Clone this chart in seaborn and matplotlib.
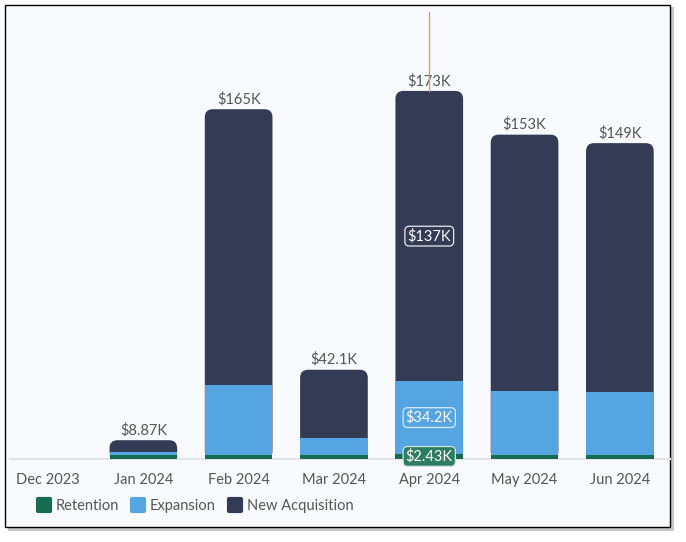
import numpy as np
import pandas as pd
import matplotlib.pyplot as plt
import seaborn as sns
from matplotlib.patches import FancyBboxPatch, Rectangle
from matplotlib.lines import Line2D
from matplotlib.markers import MarkerStyle

# Data (values in $K)
months = ['Dec 2023', 'Jan 2024', 'Feb 2024', 'Mar 2024', 'Apr 2024', 'May 2024', 'Jun 2024']
retention = [0, 1.9, 2.0, 2.0, 2.43, 2.0, 2.0]
expansion = [0, 1.5, 33.0, 8.0, 34.2, 30.0, 29.5]
new_acq = [0, 5.47, 130.0, 32.1, 137.0, 121.0, 117.5]
total_labels = ['', '$8.87K', '$165K', '$42.1K', '$173K', '$153K', '$149K']

c_ret = '#176b4f'
c_exp = '#54a5e2'
c_new = '#343b55'
txt = '#555555'

df = pd.DataFrame({'month': months, 'retention': retention,
                   'expansion': expansion, 'new': new_acq})
df['lower'] = df['retention'] + df['expansion']
df['total'] = df['lower'] + df['new']

sns.set_style('white')
plt.rcParams['font.family'] = ['Lato', 'DejaVu Sans']

fig = plt.figure(figsize=(6.86, 5.42), dpi=100)
fig.patch.set_facecolor('white')
# card frame with shadow
fig.patches.append(Rectangle((8 / 686, 1 - 531 / 542), 666 / 686, 524 / 542,
                             transform=fig.transFigure, facecolor='#c8c8c8',
                             edgecolor='none', zorder=-3))
fig.patches.append(Rectangle((5 / 686, 1 - 527 / 542), 665 / 686, 522 / 542,
                             transform=fig.transFigure, facecolor='#f9fafe',
                             edgecolor='black', linewidth=1, zorder=-2))

ax = fig.add_axes([10 / 686, 1 - 459 / 542, 660 / 686, 449 / 542])
ax.set_facecolor('none')

bw = 0.71
# full stack height, rounded top (navy shows where new acquisition sits)
sns.barplot(data=df, x='month', y='total', order=months, color=c_new,
            width=bw, saturation=1, linewidth=0, ax=ax)
ymax = 211.8
xl = (-0.399, 6.526)
ax.set_xlim(*xl)
ax.set_ylim(0, ymax)

old = list(ax.patches)
px_x = 660 / (xl[1] - xl[0])
px_y = 449 / ymax
r = 8 / px_x
for p in old:
    x, w, h = p.get_x(), p.get_width(), p.get_height()
    p.remove()
    if h <= 0:
        continue
    fb = FancyBboxPatch((x, 0), w, h, boxstyle=f'round,pad=0,rounding_size={r}',
                        mutation_aspect=px_x / px_y, facecolor=c_new,
                        edgecolor='none', zorder=2)
    ax.add_patch(fb)

sns.barplot(data=df, x='month', y='lower', order=months, color=c_exp,
            width=bw, saturation=1, linewidth=0, ax=ax, zorder=3)
sns.barplot(data=df, x='month', y='retention', order=months, color=c_ret,
            width=bw, saturation=1, linewidth=0, ax=ax, zorder=4)
ax.set_xlim(*xl)
ax.set_ylim(0, ymax)

# totals
for i, (t, lab) in enumerate(zip(df['total'], total_labels)):
    if lab:
        ax.annotate(lab, (i, t), xytext=(0, 2), textcoords='offset points',
                    ha='center', va='bottom', fontsize=10.5, color=txt, zorder=6)

# hovered month segment labels
i = 4
ax.text(i, df['lower'][i] + df['new'][i] / 2, '$137K', ha='center', va='center',
        fontsize=10.5, color='white', zorder=6,
        bbox=dict(boxstyle='round,pad=0.18,rounding_size=0.3', fc='none',
                  ec='#e8e8f0', lw=0.9))
ax.text(i, df['retention'][i] + df['expansion'][i] / 2, '$34.2K', ha='center',
        va='center', fontsize=10.5, color='white', zorder=6,
        bbox=dict(boxstyle='round,pad=0.18,rounding_size=0.3', fc='none',
                  ec='#d8ecfa', lw=0.9))
ax.text(i, df['retention'][i] / 2, '$2.43K', ha='center', va='center',
        fontsize=10.5, color='white', zorder=6,
        bbox=dict(boxstyle='round,pad=0.18,rounding_size=0.3', fc='#2e7d62',
                  ec='#cfe5dc', lw=0.9))

# cursor line
ax.axvline(i, ymin=df['total'][i] / ymax, ymax=447 / 449, color='#e8956a',
           lw=1, zorder=7)

for s in ['top', 'right', 'left']:
    ax.spines[s].set_visible(False)
ax.spines['bottom'].set_color('#e3e4e8')
ax.spines['bottom'].set_linewidth(1.5)
ax.set_yticks([])
ax.set_xlabel('')
ax.set_ylabel('')
ax.tick_params(axis='x', length=0, pad=10, labelsize=10.5, labelcolor=txt)

ms = MarkerStyle('s', joinstyle='round')
handles = [Line2D([], [], linestyle='none', marker=ms, markersize=9,
                  markerfacecolor=c, markeredgecolor=c, markeredgewidth=3)
           for c in [c_ret, c_exp, c_new]]
fig.legend(handles, ['Retention', 'Expansion', 'New Acquisition'],
           loc='center left', bbox_to_anchor=(24 / 686, 1 - 506 / 542),
           ncol=3, frameon=False, fontsize=10.5, labelcolor=txt,
           handletextpad=0.3, columnspacing=0.8, handlelength=1.0)

fig.savefig('out.png', dpi=100)
